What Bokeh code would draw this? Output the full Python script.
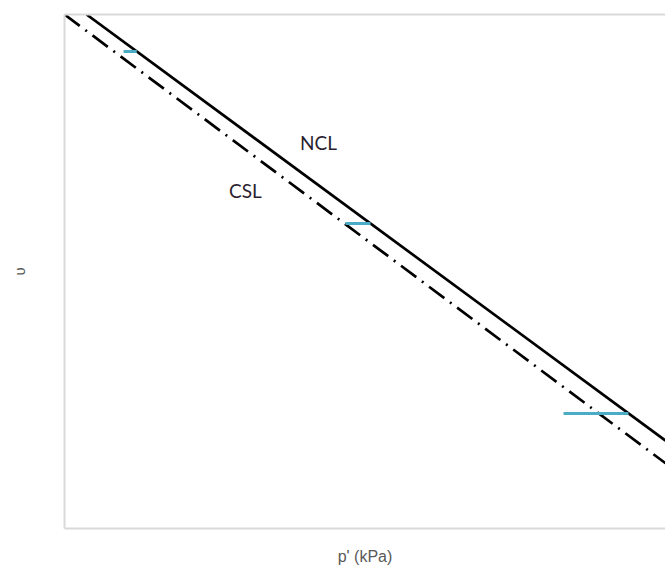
from bokeh.plotting import figure
from bokeh.models import LogAxis, Label, FixedTicker
from bokeh.embed import file_html
from bokeh.resources import INLINE

# Normal compression line (NCL) and critical state line (CSL) in v - ln p' space
ncl_p = [11.84, 1000.0]
ncl_v = [2.500, 1.671]
csl_p = [10.0, 1000.0]
csl_v = [2.500, 1.627]

# Horizontal state paths ending on the NCL
path_v = [2.428, 2.0934, 1.7237]
path_p_start = [15.72, 86.1, 457.8]
path_p_end = [17.4, 104.3, 753.0]

# Line labels (p', v)
label_text = ["NCL", "CSL"]
label_p = [70.0, 40.0]
label_v = [2.251, 2.1576]

GRID = "#d9d9d9"
TEXT = "#595959"

p = figure(width=665, height=569, x_axis_type="log",
           x_range=(10, 1000), y_range=(1.5, 2.5),
           output_backend="svg", toolbar_location=None,
           min_border_left=64, min_border_right=0,
           min_border_top=14, min_border_bottom=41)
p.background_fill_color = "white"
p.border_fill_color = "white"
p.outline_line_color = None
p.grid.visible = False

top_axis = LogAxis()
p.add_layout(top_axis, "above")

bottom_axis = p.below[0]
left_axis = p.left[0]

for ax in (bottom_axis, left_axis, top_axis):
    ax.ticker = FixedTicker(ticks=[])
    ax.axis_line_color = GRID
    ax.axis_line_width = 2
    ax.major_tick_line_color = None
    ax.minor_tick_line_color = None
    ax.major_label_standoff = 0
    ax.major_tick_out = 0
    ax.major_tick_in = 0
    ax.minor_tick_out = 0
    ax.minor_tick_in = 0

bottom_axis.axis_label = "p' (kPa)"
bottom_axis.axis_label_text_font = "Liberation Sans"
bottom_axis.axis_label_text_font_style = "normal"
bottom_axis.axis_label_text_font_size = "16px"
bottom_axis.axis_label_text_color = TEXT
bottom_axis.axis_label_standoff = 19

left_axis.axis_label = "υ"
left_axis.axis_label_text_font = "Liberation Sans"
left_axis.axis_label_text_font_style = "normal"
left_axis.axis_label_text_font_size = "15px"
left_axis.axis_label_text_color = TEXT
left_axis.axis_label_standoff = 37

# Compression and critical state lines
p.line(ncl_p, ncl_v, line_color="black", line_width=2.7)
p.line(csl_p, csl_v, line_color="black", line_width=2.7,
       line_dash="19 7 2 7")

# Horizontal paths
p.segment(x0=path_p_start, y0=path_v, x1=path_p_end, y1=path_v,
          line_color="#4BACC6", line_width=3)

for t, xp, yv in zip(label_text, label_p, label_v):
    p.add_layout(Label(x=xp, y=yv, text=t, text_align="center",
                       text_baseline="middle", text_font="Lato",
                       text_font_size="19px", text_color="#2a1f30"))

open("out.html", "w").write(file_html(p, INLINE))
